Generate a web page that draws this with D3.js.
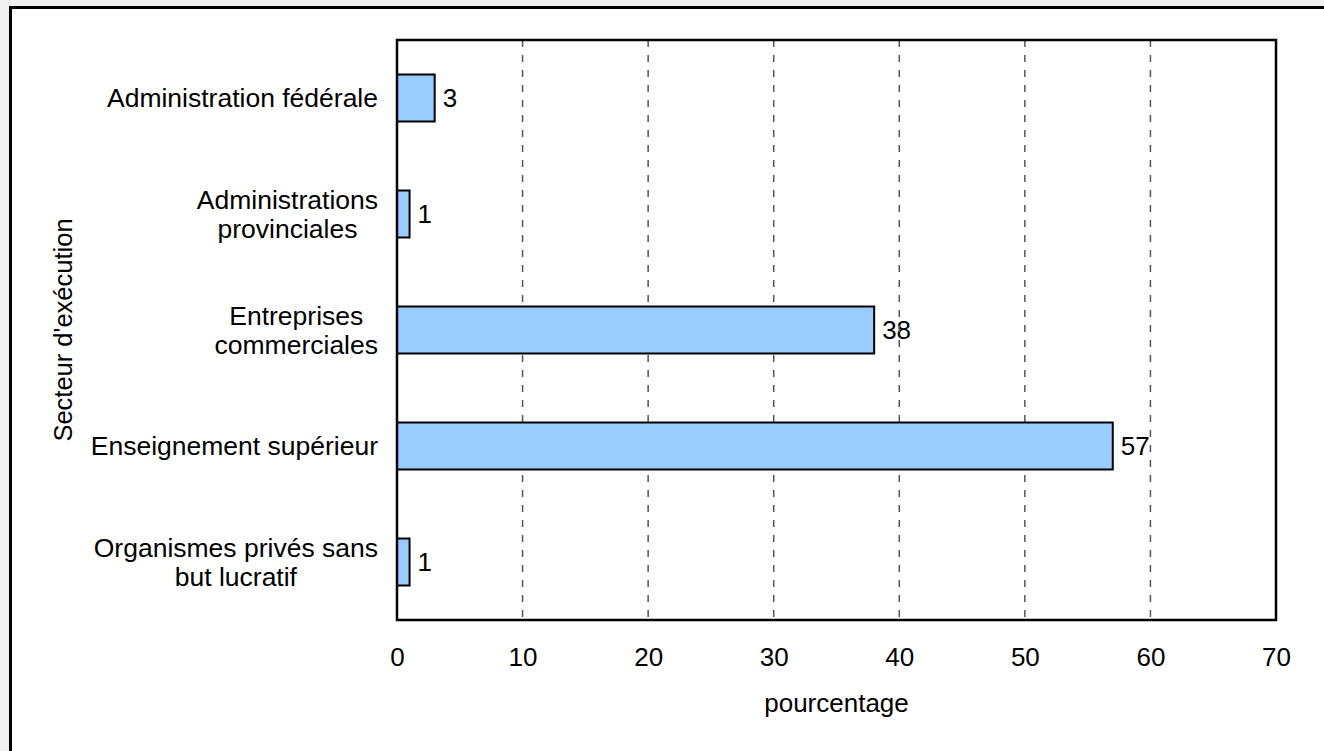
<!DOCTYPE html>
<html>
<head>
<meta charset="utf-8">
<script src="https://cdn.jsdelivr.net/npm/d3@7"></script>
<style>
  html, body { margin: 0; padding: 0; background: #f0f0f0; overflow: hidden; }
  #frame {
    position: absolute; left: 9px; top: 6px;
    width: 1330px; height: 760px;
    background: #fff; border: 3px solid #000;
  }
  svg { position: absolute; left: 0; top: 0; }
  text { font-family: "Liberation Sans", Arial, sans-serif; fill: #000; }
</style>
</head>
<body>
<div id="frame"></div>
<svg id="chart" width="1324" height="751"></svg>
<script>
// secteurs d'exécution (libellés sur plusieurs lignes)
const categories = [
  ['Administration fédérale'],
  ['Administrations', 'provinciales'],
  ['Entreprises', 'commerciales'],
  ['Enseignement supérieur'],
  ['Organismes privés sans', 'but lucratif']
];
// pourcentage
const values = [3, 1, 38, 57, 1];
const xTicks = [0, 10, 20, 30, 40, 50, 60, 70];

const fontSize = 26;
const labelSize = 26.5;
const plot = { left: 397, right: 1276, top: 40, bottom: 620 };

const svg = d3.select('#chart');

const x = d3.scaleLinear().domain([0, 70]).range([plot.left, plot.right]);
const y = d3.scaleBand()
  .domain(categories.map((d, i) => i))
  .range([plot.top, plot.bottom])
  .paddingInner(0.595)
  .paddingOuter(0.2975);

// valeurs (sous le quadrillage, comme dans l'original)
svg.append('g')
  .selectAll('text')
  .data(values)
  .join('text')
  .attr('x', (d) => x(d) + 8)
  .attr('y', (d, i) => y(i) + y.bandwidth() / 2)
  .attr('dy', '0.35em')
  .style('font-size', fontSize + 'px')
  .text((d) => d);

// quadrillage
svg.append('g')
  .selectAll('line')
  .data(xTicks.filter((t) => t > 0 && t < 70))
  .join('line')
  .attr('x1', (d) => x(d))
  .attr('x2', (d) => x(d))
  .attr('y1', plot.top)
  .attr('y2', plot.bottom)
  .attr('stroke', '#555')
  .attr('stroke-width', 1.5)
  .attr('stroke-dasharray', '7,8');

// barres
svg.append('g')
  .selectAll('rect')
  .data(values)
  .join('rect')
  .attr('x', x(0))
  .attr('y', (d, i) => y(i))
  .attr('width', (d) => x(d) - x(0))
  .attr('height', y.bandwidth())
  .attr('fill', '#99ccff')
  .attr('stroke', '#000')
  .attr('stroke-width', 2);

// cadre du graphique
svg.append('rect')
  .attr('x', plot.left)
  .attr('y', plot.top)
  .attr('width', plot.right - plot.left)
  .attr('height', plot.bottom - plot.top)
  .attr('fill', 'none')
  .attr('stroke', '#000')
  .attr('stroke-width', 2.5);

// axe x
const xAxis = svg.append('g')
  .attr('transform', `translate(0,${plot.bottom})`)
  .call(d3.axisBottom(x).tickValues(xTicks).tickSize(0).tickPadding(28));
xAxis.select('.domain').remove();
xAxis.selectAll('text')
  .style('font-size', fontSize + 'px')
  .style('font-family', '"Liberation Sans", Arial, sans-serif');

svg.append('text')
  .attr('x', (plot.left + plot.right) / 2)
  .attr('y', 703)
  .attr('text-anchor', 'middle')
  .attr('dy', '0.35em')
  .style('font-size', fontSize + 'px')
  .text('pourcentage');

// libellés des catégories : bloc aligné à droite, lignes centrées
const lineH = 29.5;
const labels = svg.append('g')
  .selectAll('text')
  .data(categories)
  .join('text')
  .attr('text-anchor', 'middle')
  .style('font-size', labelSize + 'px');

labels.each(function (lines, i) {
  const t = d3.select(this);
  const cy = y(i) + y.bandwidth() / 2;
  lines.forEach((line, j) => {
    t.append('tspan')
      .attr('y', cy + (j - (lines.length - 1) / 2) * lineH)
      .attr('dy', '0.35em')
      .text(line);
  });
  let w = 0;
  t.selectAll('tspan').each(function () { w = Math.max(w, this.getComputedTextLength()); });
  t.selectAll('tspan').attr('x', 378 - w / 2);
});

svg.append('text')
  .attr('transform', `translate(63,${(plot.top + plot.bottom) / 2}) rotate(-90)`)
  .attr('text-anchor', 'middle')
  .attr('dy', '0.35em')
  .style('font-size', '25.5px')
  .text("Secteur d'exécution");
</script>
</body>
</html>
